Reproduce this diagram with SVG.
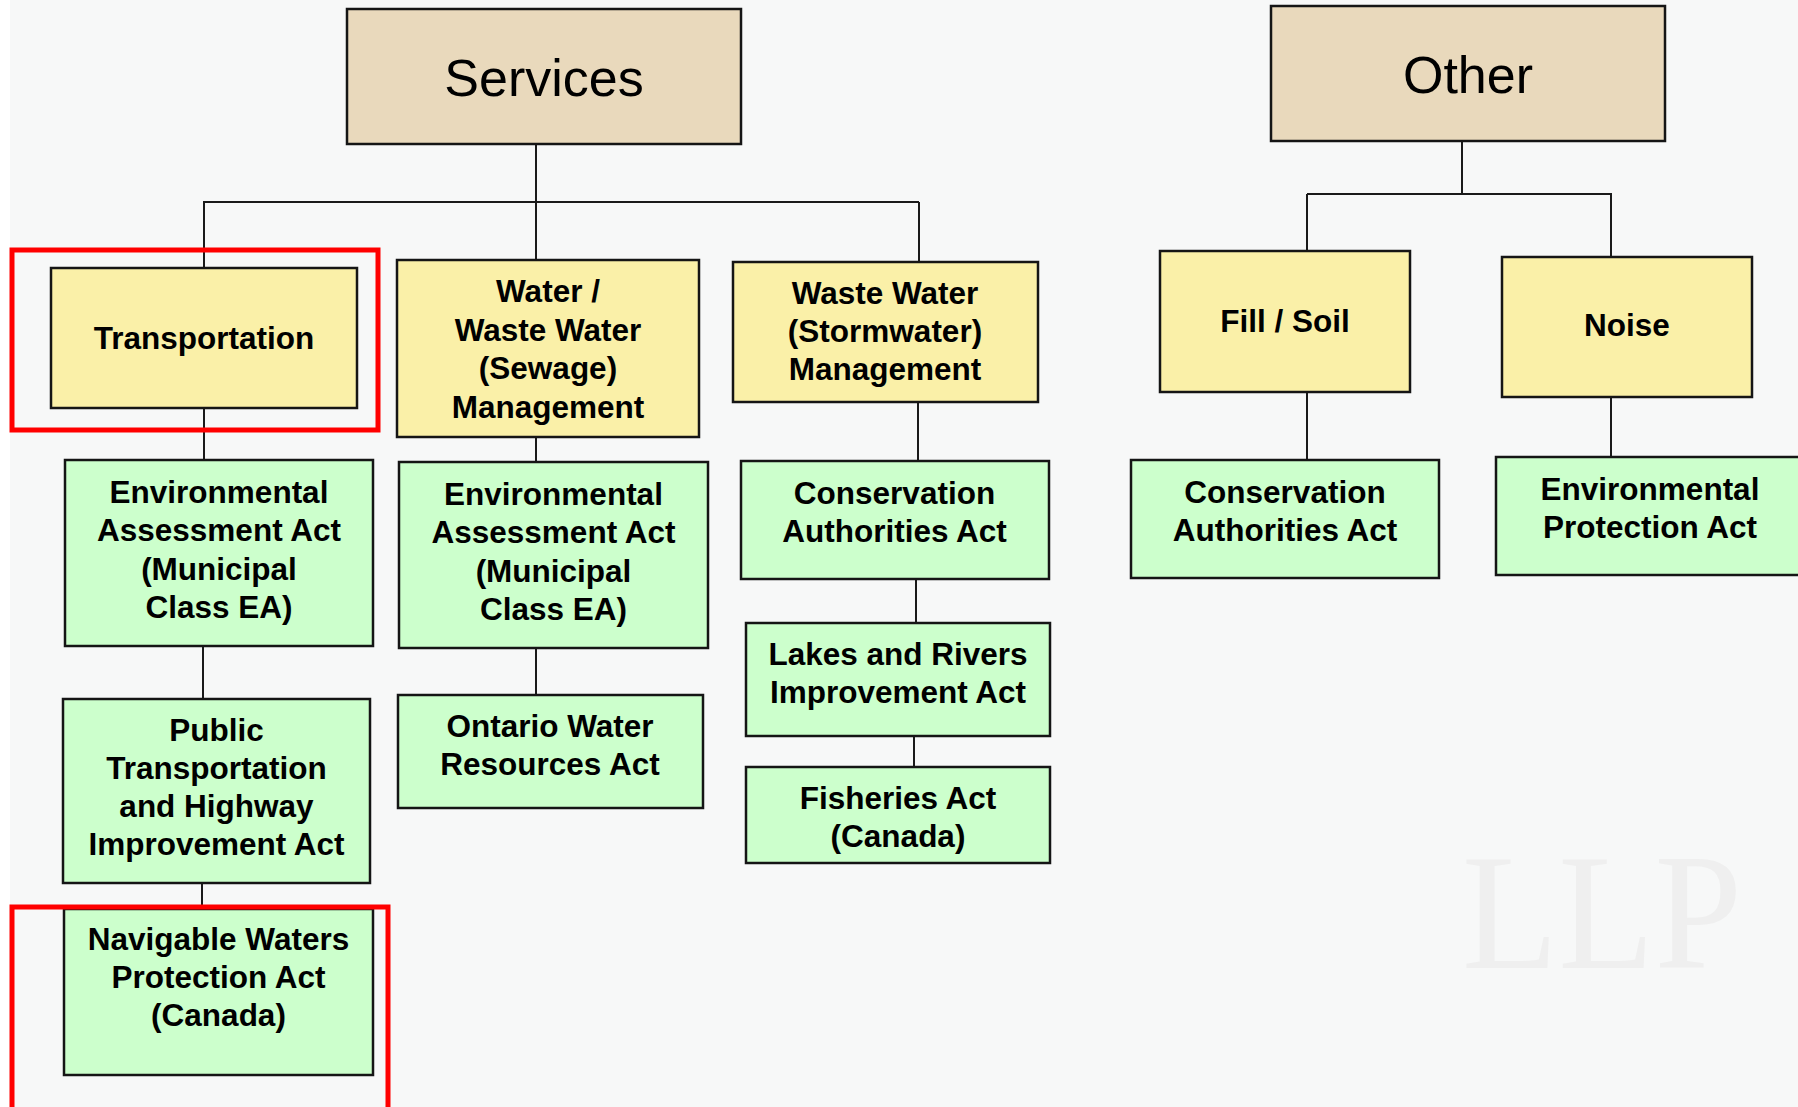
<svg xmlns="http://www.w3.org/2000/svg" width="1798" height="1107" viewBox="0 0 1798 1107">
<style>
.bg{fill:#f7f8f8}
.wm{fill:#efefef;font-family:"Liberation Serif",serif}
.box{stroke:#151515;stroke-width:2.5}
.tan{fill:#e9d9bc}
.yel{fill:#faf0a8}
.grn{fill:#ccffcc}
.big{font-family:"Liberation Sans",Arial,sans-serif;font-size:52px;fill:#000;text-anchor:middle}
.lbl{font-family:"Liberation Sans",Arial,sans-serif;font-size:31.5px;font-weight:bold;fill:#000;text-anchor:middle}
.con{stroke:#1a1a1a;stroke-width:2;fill:none}
.hl{fill:none;stroke:#ff0000;stroke-width:5}
</style>
<rect x="0" y="0" width="1798" height="1107" fill="#ffffff"/>
<rect class="bg" x="10" y="0" width="1788" height="1107"/>
<g id="watermark">
<text class="wm" x="1462" y="968" font-size="165" textLength="280" lengthAdjust="spacingAndGlyphs">LLP</text>
</g>
<g id="connectors">
<path class="con" d="M536 144V260"/>
<path class="con" d="M203 202H919"/>
<path class="con" d="M204 202V268"/>
<path class="con" d="M919 202V262"/>
<path class="con" d="M204 408V460"/>
<path class="con" d="M203 646V699"/>
<path class="con" d="M202 883V909"/>
<path class="con" d="M536 437V462"/>
<path class="con" d="M536 648V695"/>
<path class="con" d="M918 402V461"/>
<path class="con" d="M916 579V623"/>
<path class="con" d="M914 736V767"/>
<path class="con" d="M1462 141V194"/>
<path class="con" d="M1307 194H1612"/>
<path class="con" d="M1307 194V251"/>
<path class="con" d="M1611 194V257"/>
<path class="con" d="M1307 392V460"/>
<path class="con" d="M1611 397V457"/>
</g>
<g id="services">
<rect class="box tan" x="347" y="9" width="394" height="135"/>
<text class="big" x="544" y="96">Services</text>
</g>
<g id="other">
<rect class="box tan" x="1271" y="6" width="394" height="135"/>
<text class="big" x="1468" y="93">Other</text>
</g>
<g id="transportation">
<rect class="box yel" x="51" y="268" width="306" height="140"/>
<text class="lbl" x="204" y="349">Transportation</text>
</g>
<g id="water">
<rect class="box yel" x="397" y="260" width="302" height="177"/>
<text class="lbl" x="548" y="302">Water /</text>
<text class="lbl" x="548" y="340.5">Waste Water</text>
<text class="lbl" x="548" y="379">(Sewage)</text>
<text class="lbl" x="548" y="417.5">Management</text>
</g>
<g id="wastewater">
<rect class="box yel" x="733" y="262" width="305" height="140"/>
<text class="lbl" x="885" y="304">Waste Water</text>
<text class="lbl" x="885" y="342">(Stormwater)</text>
<text class="lbl" x="885" y="380">Management</text>
</g>
<g id="fillsoil">
<rect class="box yel" x="1160" y="251" width="250" height="141"/>
<text class="lbl" x="1285" y="332">Fill / Soil</text>
</g>
<g id="noise">
<rect class="box yel" x="1502" y="257" width="250" height="140"/>
<text class="lbl" x="1627" y="336">Noise</text>
</g>
<g id="ea1">
<rect class="box grn" x="65" y="460" width="308" height="186"/>
<text class="lbl" x="219" y="503">Environmental</text>
<text class="lbl" x="219" y="541">Assessment Act</text>
<text class="lbl" x="219" y="580">(Municipal</text>
<text class="lbl" x="219" y="618">Class EA)</text>
</g>
<g id="ea2">
<rect class="box grn" x="399" y="462" width="309" height="186"/>
<text class="lbl" x="553.5" y="505">Environmental</text>
<text class="lbl" x="553.5" y="543">Assessment Act</text>
<text class="lbl" x="553.5" y="582">(Municipal</text>
<text class="lbl" x="553.5" y="620">Class EA)</text>
</g>
<g id="pthia">
<rect class="box grn" x="63" y="699" width="307" height="184"/>
<text class="lbl" x="216.5" y="741">Public</text>
<text class="lbl" x="216.5" y="779">Transportation</text>
<text class="lbl" x="216.5" y="817">and Highway</text>
<text class="lbl" x="216.5" y="855">Improvement Act</text>
</g>
<g id="nwpa">
<rect class="box grn" x="64" y="909" width="309" height="166"/>
<text class="lbl" x="218.5" y="950">Navigable Waters</text>
<text class="lbl" x="218.5" y="988">Protection Act</text>
<text class="lbl" x="218.5" y="1026">(Canada)</text>
</g>
<g id="owra">
<rect class="box grn" x="398" y="695" width="305" height="113"/>
<text class="lbl" x="550" y="737">Ontario Water</text>
<text class="lbl" x="550" y="775">Resources Act</text>
</g>
<g id="caa1">
<rect class="box grn" x="741" y="461" width="308" height="118"/>
<text class="lbl" x="894.5" y="504">Conservation</text>
<text class="lbl" x="894.5" y="542">Authorities Act</text>
</g>
<g id="lria">
<rect class="box grn" x="746" y="623" width="304" height="113"/>
<text class="lbl" x="898" y="665">Lakes and Rivers</text>
<text class="lbl" x="898" y="703">Improvement Act</text>
</g>
<g id="fisheries">
<rect class="box grn" x="746" y="767" width="304" height="96"/>
<text class="lbl" x="898" y="809">Fisheries Act</text>
<text class="lbl" x="898" y="847">(Canada)</text>
</g>
<g id="caa2">
<rect class="box grn" x="1131" y="460" width="308" height="118"/>
<text class="lbl" x="1285" y="503">Conservation</text>
<text class="lbl" x="1285" y="541">Authorities Act</text>
</g>
<g id="epa">
<rect class="box grn" x="1496" y="457" width="308" height="118"/>
<text class="lbl" x="1650" y="500">Environmental</text>
<text class="lbl" x="1650" y="538">Protection Act</text>
</g>
<g id="highlights">
<rect class="hl" x="12" y="250" width="366" height="180"/>
<rect class="hl" x="12" y="907" width="376" height="260"/>
</g>
</svg>
